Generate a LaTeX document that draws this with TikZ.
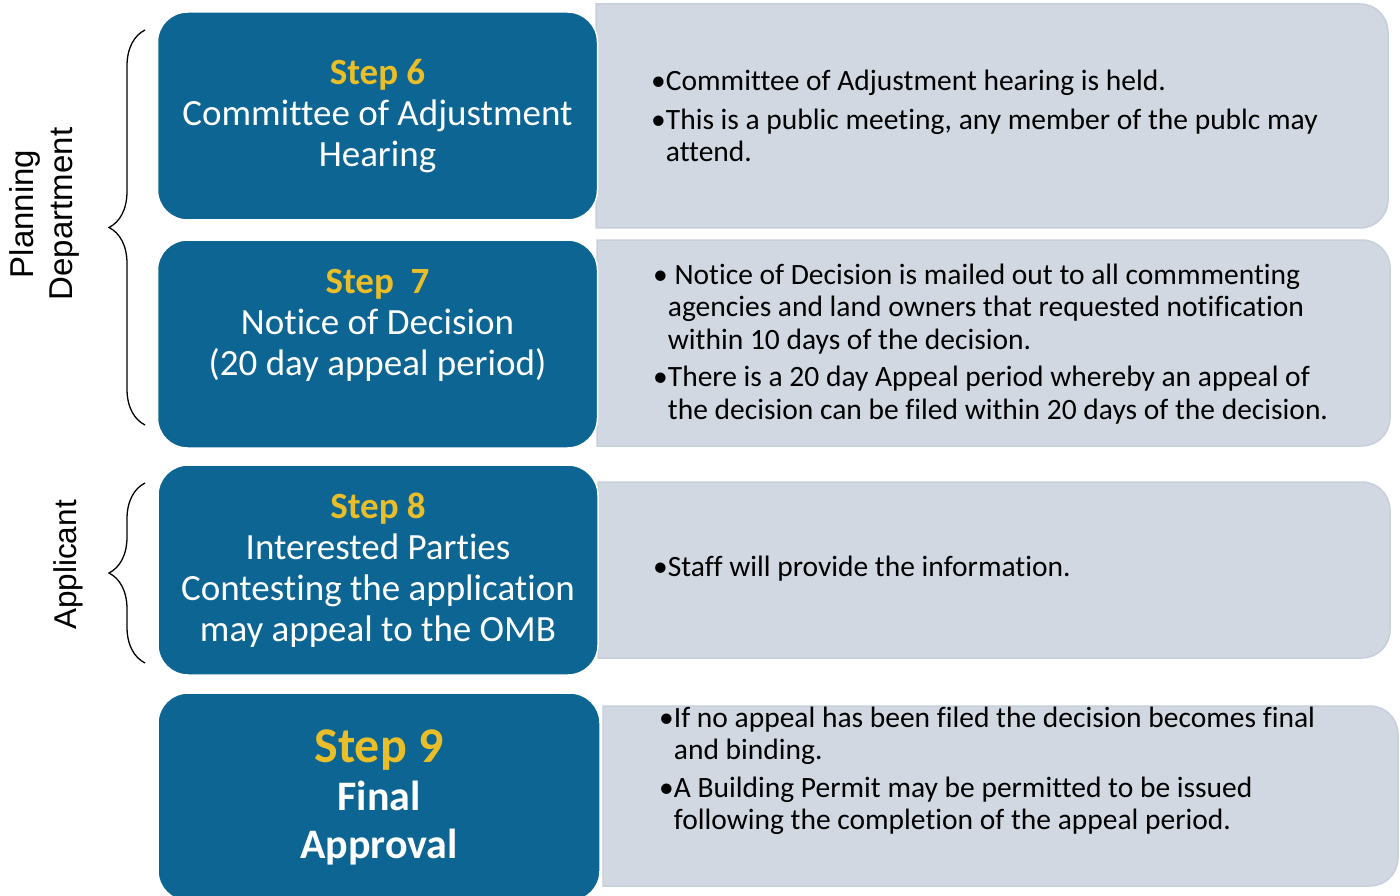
\documentclass[tikz,border=0pt]{standalone}
\usepackage{fontspec}
\setmainfont[Ligatures=NoCommon]{Carlito}
\newfontfamily\labelfont{Liberation Sans}
\usetikzlibrary{decorations.pathreplacing}
\definecolor{stepblue}{RGB}{12,101,146}
\definecolor{stepyellow}{RGB}{233,190,40}
\definecolor{notegrey}{RGB}{209,216,226}
\definecolor{noteedge}{RGB}{199,207,219}

\begin{document}
\begin{tikzpicture}[x=1pt,y=1pt,
  stepbox/.style={draw=white, line width=1.5pt, fill=stepblue, rounded corners=30pt,
    minimum width=440pt, minimum height=208pt, align=center, text=white, inner sep=0pt,
    font=\fontsize{37}{41}\selectfont},
  notebox/.style={fill=notegrey, draw=noteedge, line width=1.5pt},
  notetext/.style={anchor=west, align=left, inner sep=0pt, font=\fontsize{29.5}{32.5}\selectfont},
  sidelabel/.style={rotate=90, align=center, font=\labelfont\fontsize{33}{39}\selectfont},
  bracket/.style={decorate, decoration={brace, amplitude=36pt}, line width=1.3pt}]
\useasboundingbox (0,0) rectangle (1400,-896);

% grey panels, square on the left, round on the right
\draw[notebox] (596,-4) -- (1360,-4) arc[start angle=90, end angle=0, radius=28] -- (1388,-200) arc[start angle=0, end angle=-90, radius=28] -- (596,-228) -- cycle;
\draw[notebox] (597,-240) -- (1362,-240) arc[start angle=90, end angle=0, radius=28] -- (1390,-418) arc[start angle=0, end angle=-90, radius=28] -- (597,-446) -- cycle;
\draw[notebox] (598,-482) -- (1362,-482) arc[start angle=90, end angle=0, radius=28] -- (1390,-630) arc[start angle=0, end angle=-90, radius=28] -- (598,-658) -- cycle;
\draw[notebox] (603,-706) -- (1370,-706) arc[start angle=90, end angle=0, radius=28] -- (1398,-858) arc[start angle=0, end angle=-90, radius=28] -- (603,-886) -- cycle;

% step boxes
\node[stepbox] (s6) at (377.5,-116) {\textcolor{stepyellow}{\textbf{Step 6}}\\Committee of Adjustment\\Hearing};
\node[stepbox] (s7) at (377.5,-344) {\textcolor{stepyellow}{\textbf{Step\ \ 7}}\\Notice of Decision\\(20 day appeal period)\\[3pt]\mbox{}};
\node[stepbox, minimum height=210pt] (s8) at (378,-570) {\textcolor{stepyellow}{\textbf{Step 8}}\\Interested Parties\\Contesting the application\\may appeal to the OMB};
\node[stepbox, minimum width=442pt, minimum height=208pt] (s9) at (379,-797) {\textcolor{stepyellow}{\fontsize{50}{50}\selectfont\textbf{Step 9}}\\[7pt]{\fontsize{42}{48}\selectfont\textbf{Final}}\\[7pt]{\fontsize{42}{48}\selectfont\textbf{Approval}}};

% notes
\node[notetext] (n6) at (651,-116) {\textbullet Committee of Adjustment hearing is held.\\[6pt]\textbullet This is a public meeting, any member of the publc may\\\hphantom{\textbullet}attend.};
\node[notetext] (n7) at (653,-344) {\textbullet\ Notice of Decision is mailed out to all commmenting\\\hphantom{\textbullet}agencies and land owners that requested notification\\\hphantom{\textbullet}within 10 days of the decision.\\[5pt]\textbullet There is a 20 day Appeal period whereby an appeal of\\\hphantom{\textbullet}the decision can be filed within 20 days of the decision.};
\node[notetext] (n8) at (653,-569) {\textbullet Staff will provide the information.};
\node[notetext] (n9) at (659,-771) {\textbullet If no appeal has been filed the decision becomes final\\\hphantom{\textbullet}and binding.\\[5pt]\textbullet A Building Permit may be permitted to be issued\\\hphantom{\textbullet}following the completion of the appeal period.};

% side labels and braces
\node[sidelabel] (plan) at (44,-214) {Planning\\Department};
\node[sidelabel, font=\labelfont\fontsize{31.5}{37}\selectfont] (appl) at (68,-565) {Applicant};
\coordinate (pb) at (145,-425);
\coordinate (pt) at (145,-30);
\coordinate (ab) at (145,-663);
\coordinate (at) at (145,-483);
\draw[bracket] (pb) -- (pt);
\draw[bracket] (ab) -- (at);
\end{tikzpicture}
\end{document}
